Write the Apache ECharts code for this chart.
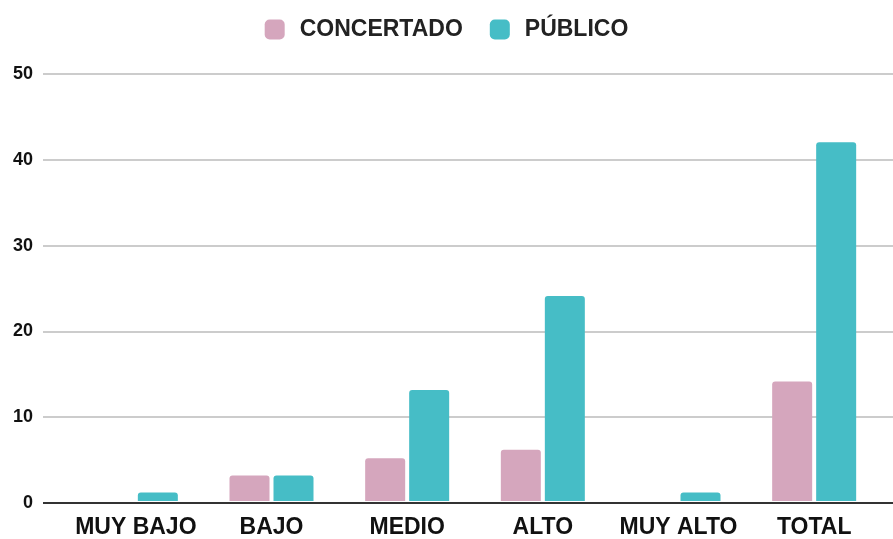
<!DOCTYPE html>
<html><head><meta charset="utf-8">
<script src="https://cdn.jsdelivr.net/npm/echarts@6/dist/echarts.min.js"></script>
<style>html,body{margin:0;padding:0;background:#fff}#c{width:893px;height:539px}</style>
</head><body><div id="c"></div>
<script>
var categories = ['MUY BAJO','BAJO','MEDIO','ALTO','MUY ALTO','TOTAL'];
var concertado = [0, 3, 5, 6, 0, 14];
var publico = [1, 3, 13, 24, 1, 42];
var yTicks = [0, 10, 20, 30, 40, 50];

var FONT = '"Liberation Sans", Arial, Helvetica, sans-serif';
var chart = echarts.init(document.getElementById('c'), null, {renderer:'canvas'});
chart.setOption({
  animation:false,
  legend:{
    top:13, left:'center', itemWidth:20, itemHeight:20, itemGap:27,
    icon:'roundRect',
    textStyle:{fontFamily:FONT, fontWeight:'bold', fontSize:23, color:'#222', padding:[0,0,0,10]},
    data:['CONCERTADO','PÚBLICO']
  },
  grid:[
    {left:43, right:0, top:74, bottom:36, containLabel:false},
    {left:68, right:11, top:74, bottom:36, containLabel:false}
  ],
  xAxis:[
    {type:'category', gridIndex:0, data:categories, show:false},
    {type:'category', gridIndex:1, data:categories,
     axisLine:{show:false}, axisTick:{show:false},
     axisLabel:{interval:0, fontFamily:FONT, fontWeight:'bold', fontSize:23, color:'#111', margin:15}}
  ],
  yAxis:[
    {type:'value', gridIndex:0, min:yTicks[0], max:yTicks[yTicks.length-1], interval:10,
     axisLine:{show:false}, axisTick:{show:false},
     axisLabel:{fontFamily:FONT, fontWeight:'bold', fontSize:18, color:'#111', margin:10},
     splitLine:{lineStyle:{color:'#cccccc', width:2}}},
    {type:'value', gridIndex:1, min:yTicks[0], max:yTicks[yTicks.length-1], interval:10, show:false}
  ],
  series:[
    {name:'CONCERTADO', type:'bar', xAxisIndex:1, yAxisIndex:1, data:concertado,
     barWidth:40, barGap:'10%', itemStyle:{color:'#d5a6bd', borderRadius:[3,3,0,0]}},
    {name:'PÚBLICO', type:'bar', xAxisIndex:1, yAxisIndex:1, data:publico,
     barWidth:40, barGap:'10%', itemStyle:{color:'#46bdc6', borderRadius:[3,3,0,0]}},
    {type:'line', xAxisIndex:0, yAxisIndex:0, data:[0,0,0,0,0,0], silent:true, symbol:'none',
     lineStyle:{opacity:0}, markLine:{silent:true, symbol:'none', label:{show:false},
       lineStyle:{color:'#333', width:2, type:'solid'}, data:[{yAxis:0}]}}
  ]
});
</script></body></html>
